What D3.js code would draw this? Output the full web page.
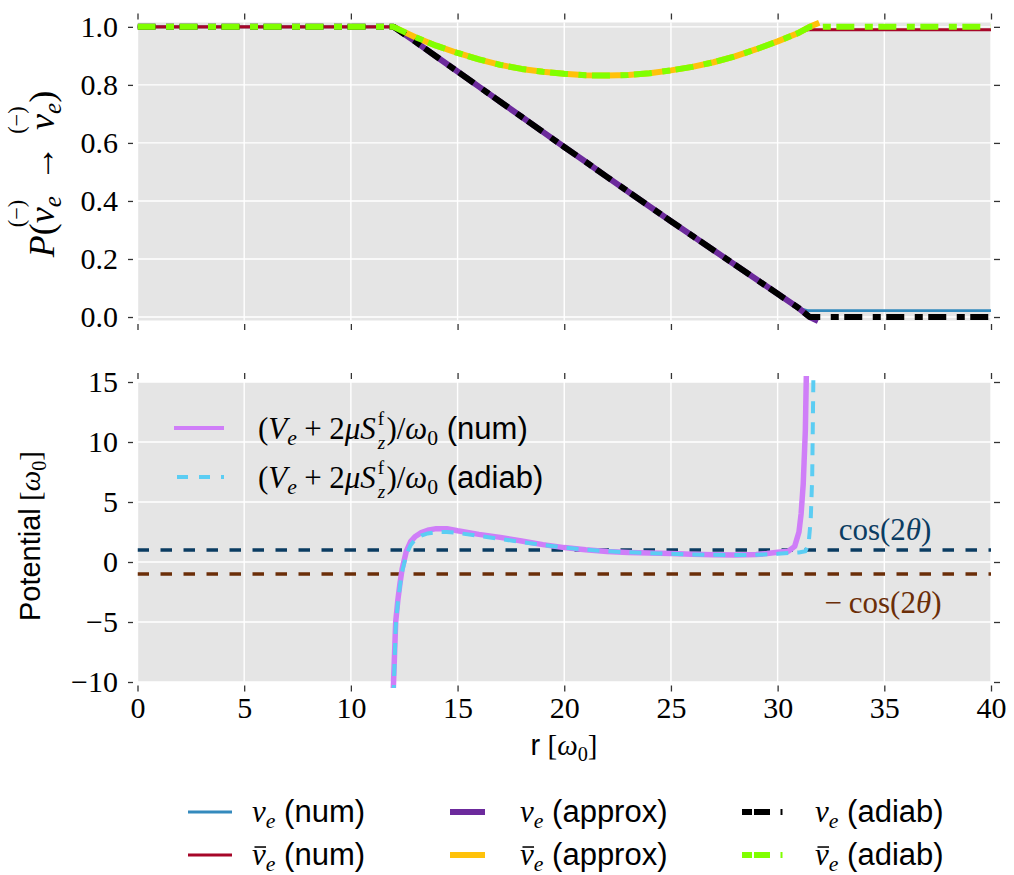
<!DOCTYPE html>
<html>
<head>
<meta charset="utf-8">
<script src="https://cdn.jsdelivr.net/npm/d3@7"></script>
<style>
  body { margin: 0; background: #fff; }
  svg { display: block; }
</style>
</head>
<body>
<svg id="chart" width="1014" height="875"></svg>
<script>
// ---- data ----
const xTicks = [0, 5, 10, 15, 20, 25, 30, 35, 40];
const yTopTicks = [0, 0.2, 0.4, 0.6, 0.8, 1.0];
const yBotTicks = [-10, -5, 0, 5, 10, 15];

// survival probabilities, shared r grid
const rTop = [0, 12, 13, 14, 15, 16, 17, 18, 19, 20, 21, 22, 23, 24, 25, 26, 27, 28, 29, 30, 31];
const nuCurve = [1, 1, 0.95, 0.898, 0.846, 0.794, 0.742, 0.69, 0.638, 0.586, 0.535, 0.483, 0.432, 0.381, 0.33, 0.28, 0.23, 0.18, 0.13, 0.08, 0.03];
const nubarCurve = [1, 1, 0.965, 0.935, 0.91, 0.888, 0.869, 0.855, 0.845, 0.838, 0.833, 0.832, 0.834, 0.84, 0.85, 0.862, 0.878, 0.898, 0.923, 0.95, 0.98];

// what each series does after the resonance region [r, P]
const nuNumTail = [[31.4, 0.022], [40, 0.022]];
const nubarNumTail = [[31.4, 0.99], [40, 0.99]];
const nuApproxTail = [[31.5, 0.0], [31.9, -0.014]];
const nubarApproxTail = [[31.5, 1.0], [31.95, 1.014]];
const nuAdiabTail = [[31.5, 0], [40, 0]];
const nubarAdiabTail = [[31.5, 1.0], [40, 1.0]];

// potential (V_e + 2 mu S_z^f)/omega_0
const rPotNum = [11.95, 12.0, 12.1, 12.2, 12.3, 12.4, 12.6, 12.8, 13.0, 13.3, 13.6, 14.0, 14.5, 15,
  16, 17, 18, 19, 20, 21, 22, 23, 24, 25, 26, 27, 28,
  29, 29.5, 30, 30.5, 30.8, 31.0, 31.1, 31.2, 31.3, 31.35];
const potNum = [-13, -10, -5.0, -3.2, -1.8, -0.6, 0.9, 1.7, 2.1, 2.45, 2.65, 2.78, 2.78, 2.6,
  2.3, 2.05, 1.75, 1.45, 1.2, 1.02, 0.88, 0.8, 0.75, 0.7, 0.64, 0.6, 0.58,
  0.62, 0.7, 0.82, 0.9, 1.3, 2.5, 4.0, 6.5, 11, 16];
const rPotAd = [11.97, 12.02, 12.1, 12.2, 12.3, 12.4, 12.6, 12.8, 13.0, 13.3, 13.6, 14.0, 14.5, 15,
  16, 17, 18, 19, 20, 21, 22, 23, 24, 25, 26, 27, 28,
  29, 30, 30.5, 31, 31.3, 31.45, 31.55, 31.62, 31.68];
const potAd = [-13, -10, -5.4, -3.4, -2.0, -0.8, 0.6, 1.4, 1.85, 2.2, 2.38, 2.48, 2.5, 2.42,
  2.18, 1.92, 1.66, 1.42, 1.2, 1.03, 0.9, 0.81, 0.74, 0.68, 0.63, 0.6, 0.58,
  0.6, 0.68, 0.75, 0.8, 0.9, 1.5, 3.5, 7, 16];
const cos2theta = 1;

const legendNames = ["num", "num", "approx", "approx", "adiab", "adiab"];

// ---- helpers ----
const SERIF = "'Liberation Serif', 'DejaVu Serif', serif";
const SANS = "'Liberation Sans', Arial, sans-serif";

function zipRows(rs, vs) { return rs.map((r, i) => [r, vs[i]]); }

// lays out a row of math pieces left to right, returns the group and its width
function mathText(parent, parts, size, color) {
  const g = parent.append("g").attr("fill", color || "#000");
  let cx = 0;
  parts.forEach(p => {
    if (p.space) { cx += p.space * size; return; }
    cx += (p.pre || 0) * size;
    const small = p.sub || p.sup;
    const fs = p.under ? size * 0.62 : small ? size * 0.7 : size;
    const dy = p.sub ? size * 0.2 : p.under ? -size * 0.45 : p.sup ? -size * 0.36 : 0;
    const t = g.append("text")
      .attr("x", cx).attr("y", dy)
      .attr("font-family", p.f === "s" ? SANS : SERIF)
      .attr("font-style", p.f === "i" ? "italic" : "normal")
      .attr("font-size", fs);
    let w;
    if (p.under) {
      // superscript and subscript stacked in one text element
      const a = t.append("tspan").text(p.t);
      const wa = a.node().getComputedTextLength();
      const b = t.append("tspan").attr("x", cx).attr("dy", size * 0.77)
        .attr("font-style", "italic").text(p.under);
      w = Math.max(wa, b.node().getComputedTextLength());
    } else {
      t.text(p.t);
      w = t.node().getComputedTextLength();
    }
    if (p.over) {
      g.append("text").attr("x", cx + w / 2 + size * 0.05).attr("y", -size * 0.82)
        .attr("text-anchor", "middle").attr("font-family", SERIF)
        .attr("font-size", size * 0.62).text(p.over);
    }
    if (p.bar) {
      g.append("line")
        .attr("x1", cx + w * 0.18).attr("x2", cx + w * 1.02)
        .attr("y1", -size * 0.58).attr("y2", -size * 0.58)
        .attr("stroke", color || "#000").attr("stroke-width", size * 0.05);
    }
    cx += w + (p.after || 0) * size;
  });
  return { g, width: cx };
}

function centered(parent, parts, size, color, x, y, rotate) {
  const outer = parent.append("g")
    .attr("transform", `translate(${x},${y})` + (rotate ? ` rotate(${rotate})` : ""));
  const m = mathText(outer, parts, size, color);
  m.g.attr("transform", `translate(${-m.width / 2},0)`);
  return m;
}

// ---- layout ----
const svg = d3.select("#chart");
const x = d3.scaleLinear().domain([0, 40]).range([137.5, 991]);
const yTop = d3.scaleLinear().domain([-0.012, 1.015]).range([320.5, 22.5]);
const yBot = d3.scaleLinear().domain([-10, 15]).range([682, 382]);

function panel(y, yTicks, fmt, showX, id) {
  const [y1, y0] = y.range();
  const [x0, x1] = x.range();
  svg.append("rect").attr("x", x0).attr("y", y0).attr("width", x1 - x0).attr("height", y1 - y0)
    .attr("fill", "#e5e5e5");
  svg.append("clipPath").attr("id", id).append("rect")
    .attr("x", x0).attr("y", y0 - 6).attr("width", x1 - x0).attr("height", y1 - y0 + 12);

  const grid = svg.append("g").attr("stroke", "#fff").attr("stroke-width", 1.4);
  grid.selectAll(".gx").data(xTicks).join("line")
    .attr("x1", d => x(d)).attr("x2", d => x(d)).attr("y1", y0).attr("y2", y1);
  grid.selectAll(".gy").data(yTicks).join("line")
    .attr("y1", d => y(d)).attr("y2", d => y(d)).attr("x1", x0).attr("x2", x1);

  const styleAxis = g => {
    g.select(".domain").remove();
    g.selectAll(".tick line").attr("stroke", "#333").attr("stroke-width", 1.3);
    g.selectAll("text").attr("font-family", SERIF).attr("font-size", 30).attr("fill", "#000");
  };
  svg.append("g").attr("transform", `translate(${x0 - 4.5},0)`)
    .call(d3.axisLeft(y).tickValues(yTicks).tickSize(5).tickPadding(10).tickFormat(fmt))
    .call(styleAxis);
  svg.append("g").attr("transform", `translate(${x1 + 3},0)`)
    .call(d3.axisRight(y).tickValues(yTicks).tickSize(6).tickFormat(""))
    .call(styleAxis);
  svg.append("g").attr("transform", `translate(0,${y0 - 3})`)
    .call(d3.axisTop(x).tickValues(xTicks).tickSize(6).tickFormat(""))
    .call(styleAxis);
  svg.append("g").attr("transform", `translate(0,${y1 + 3.5})`)
    .call(d3.axisBottom(x).tickValues(xTicks).tickSize(6).tickPadding(5)
      .tickFormat(showX ? d3.format("d") : ""))
    .call(styleAxis);
}

panel(yTop, yTopTicks, d3.format(".1f"), false, "clipTop");
panel(yBot, yBotTicks, d3.format("d"), true, "clipBot");

// ---- top panel lines ----
const dashDot = "18,10.5,8,5.5";
const styles = [
  { color: "#348ABD", width: 2.8 },
  { color: "#A60628", width: 3.2 },
  { color: "#6C2A9C", width: 6 },
  { color: "#FFC20A", width: 6 },
  { color: "#000000", width: 6, dash: dashDot },
  { color: "#80FF00", width: 6, dash: dashDot }
];
const nuRows = zipRows(rTop, nuCurve);
const nubarRows = zipRows(rTop, nubarCurve);
const topSeries = [
  nuRows.concat(nuNumTail),
  nubarRows.concat(nubarNumTail),
  nuRows.slice(1).concat(nuApproxTail),
  nubarRows.slice(1).concat(nubarApproxTail),
  nuRows.concat(nuAdiabTail),
  nubarRows.concat(nubarAdiabTail)
];
const lineTop = d3.line().x(d => x(d[0])).y(d => yTop(d[1]));
const gTop = svg.append("g").attr("clip-path", "url(#clipTop)");
topSeries.forEach((rows, i) => {
  gTop.append("path").datum(rows)
    .attr("fill", "none").attr("stroke", styles[i].color)
    .attr("stroke-width", styles[i].width)
    .attr("stroke-linejoin", "round")
    .attr("stroke-dasharray", styles[i].dash || null)
    .attr("d", lineTop);
});

// ---- bottom panel ----
const gBot = svg.append("g").attr("clip-path", "url(#clipBot)");
const lineBot = d3.line().x(d => x(d[0])).y(d => yBot(d[1]));
const levelStyles = [
  { v: cos2theta, color: "#0b3c62" },
  { v: -cos2theta, color: "#6b2e08" }
];
levelStyles.forEach(s => {
  gBot.append("line")
    .attr("x1", x(0)).attr("x2", x(40))
    .attr("y1", yBot(s.v)).attr("y2", yBot(s.v))
    .attr("stroke", s.color).attr("stroke-width", 3.6)
    .attr("stroke-dasharray", "11.5,11.5");
});
gBot.append("path").datum(zipRows(rPotNum, potNum))
  .attr("fill", "none").attr("stroke", "#cf7ef8").attr("stroke-width", 5.5)
  .attr("stroke-linejoin", "round").attr("d", lineBot);
gBot.append("path").datum(zipRows(rPotAd, potAd))
  .attr("fill", "none").attr("stroke", "#5bcdf3").attr("stroke-width", 4)
  .attr("stroke-dasharray", "12,9").attr("d", lineBot);

// cos(2θ) labels
centered(svg, [{ t: "cos", f: "r" }, { t: "(2", f: "r" }, { t: "θ", f: "i" }, { t: ")", f: "r" }],
  31, "#0b3c62", 885, 540);
centered(svg, [{ t: "−", f: "r", after: 0.22 }, { t: "cos", f: "r" }, { t: "(2", f: "r" },
  { t: "θ", f: "i" }, { t: ")", f: "r" }], 31, "#6b2e08", 883, 613);

// in-panel legend
const potParts = [
  { t: "(", f: "r" }, { t: "V", f: "i" }, { t: "e", f: "i", sub: true },
  { t: "+", f: "r", pre: 0.24, after: 0.24 }, { t: "2", f: "r" }, { t: "μ", f: "i" },
  { t: "S", f: "i", after: 0.06 }, { t: "f", f: "r", sup: true, under: "z", after: 0.04 }, { t: ")/", f: "r" },
  { t: "ω", f: "i" }, { t: "0", f: "r", sub: true }, { space: 0.28 }
];
[["num", "#cf7ef8", null, 428], ["adiab", "#5bcdf3", "11,11", 477]].forEach(([name, c, dash, yy]) => {
  svg.append("line").attr("x1", 174).attr("x2", 224).attr("y1", yy).attr("y2", yy)
    .attr("stroke", c).attr("stroke-width", 4).attr("stroke-dasharray", dash)
    .attr("stroke-dashoffset", dash ? -3 : null);
  const m = mathText(svg, potParts.concat([{ t: "(" + name + ")", f: "s" }]), 31);
  m.g.attr("transform", `translate(258,${yy + 11})`);
});

// ---- axis labels ----
const omega0 = [{ t: "[", f: "r" }, { t: "ω", f: "i" }, { t: "0", f: "r", sub: true }, { t: "]", f: "r" }];
centered(svg, [{ t: "r", f: "s" }, { space: 0.25 }].concat(omega0), 29, "#000", 564, 755);
centered(svg, [{ t: "Potential", f: "s" }, { space: 0.25 }].concat(omega0), 29, "#000", 40, 536, -90);
centered(svg, [
  { t: "P", f: "i" }, { t: "(", f: "r" }, { t: "ν", f: "i", over: "(−)" }, { t: "e", f: "i", sub: true },
  { t: "→", f: "r", pre: 0.42, after: 0.42 },
  { t: "ν", f: "i", over: "(−)" }, { t: "e", f: "i", sub: true }, { t: ")", f: "r" }
], 36, "#000", 54, 174, -90);

// ---- figure legend ----
const legendPos = [
  { hx: 188, hw: 44, tx: 252, ty: 812 }, { hx: 188, hw: 44, tx: 252, ty: 855 },
  { hx: 450, hw: 35, tx: 520, ty: 812 }, { hx: 450, hw: 35, tx: 520, ty: 855 },
  { hx: 742, hw: 46, tx: 815, ty: 812 }, { hx: 742, hw: 46, tx: 815, ty: 855 }
];
legendNames.forEach((name, i) => {
  const p = legendPos[i], s = styles[i];
  svg.append("line").attr("x1", p.hx).attr("x2", p.hx + p.hw).attr("y1", p.ty).attr("y2", p.ty)
    .attr("stroke", s.color).attr("stroke-width", s.width)
    .attr("stroke-dasharray", s.dash ? "10,2,16,10.5,2,100" : null);
  const m = mathText(svg, [
    { t: "ν", f: "i", bar: i % 2 === 1 }, { t: "e", f: "i", sub: true }, { space: 0.28 },
    { t: "(" + name + ")", f: "s" }
  ], 31);
  m.g.attr("transform", `translate(${p.tx},${p.ty + 10})`);
});
</script>
</body>
</html>
